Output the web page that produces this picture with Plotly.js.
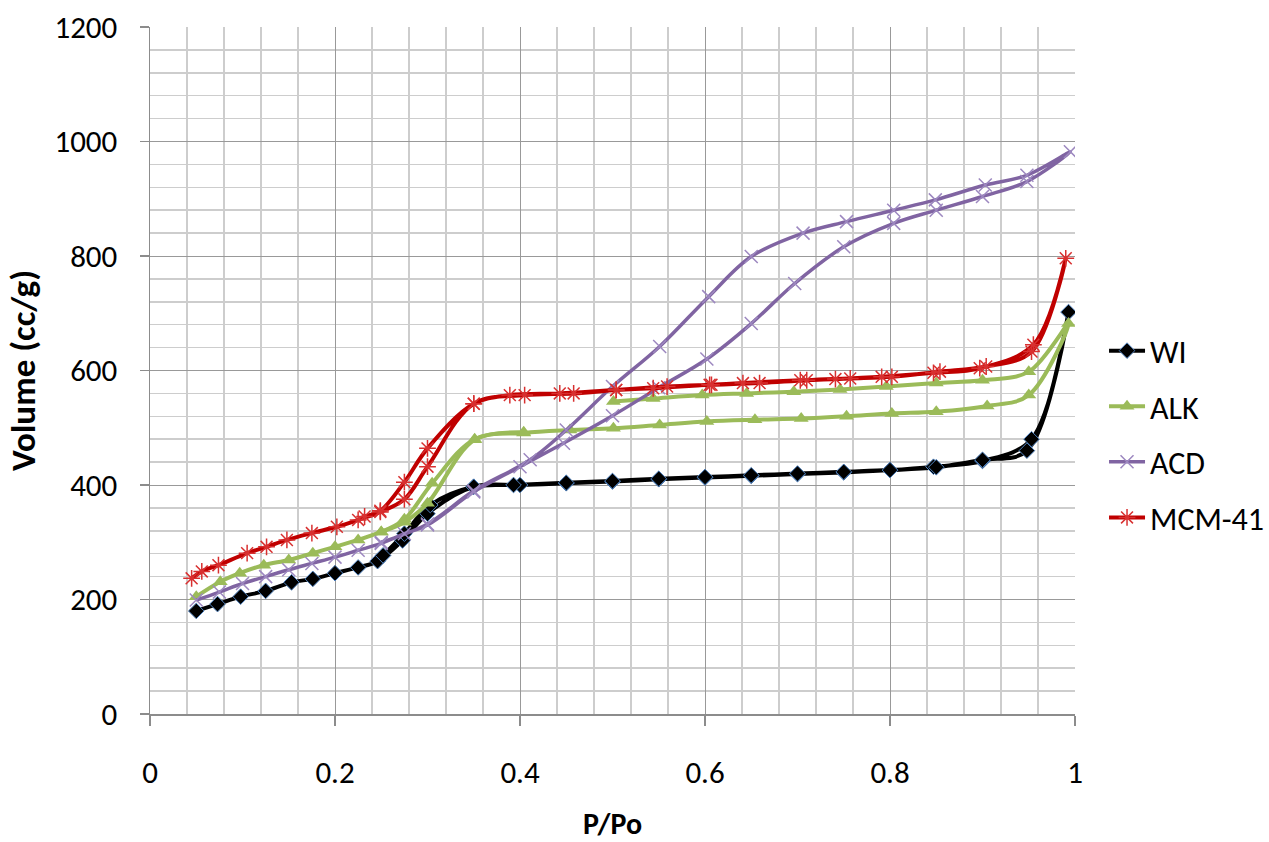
<!DOCTYPE html>
<html>
<head>
<meta charset="utf-8">
<script src="https://cdn.plot.ly/plotly-3.0.1.min.js"></script>
<style>html,body{margin:0;padding:0;background:#fff;}#chart{width:1269px;height:842px;}</style>
</head>
<body>
<div id="chart"></div>
<script>
// WI
const wiAdsP = [0.05,0.073,0.098,0.125,0.153,0.176,0.2,0.225,0.246,0.273,0.3,0.35,0.4,0.45,0.5,0.55,0.6,0.65,0.7,0.75,0.8,0.847,0.9,0.953,0.993];
const wiAdsV = [180,192,205,215,230,236,246,256,267,303,350,397,400,403,406,410,413,416,419,422,426,432,442,480,702];
const wiDesP = [0.948,0.9,0.85,0.8,0.75,0.7,0.65,0.6,0.55,0.5,0.45,0.393,0.35,0.303,0.275,0.252];
const wiDesV = [460,444,431,426,423,420,417,414,411,407,404,400,397,365,315,277];
// ALK
const alkAdsP = [0.05,0.076,0.097,0.123,0.15,0.176,0.2,0.225,0.25,0.275,0.3,0.351,0.404,0.454,0.501,0.551,0.602,0.654,0.704,0.753,0.802,0.85,0.905,0.95,0.993];
const alkAdsV = [205,231,246,260,269,281,292,304,318,335,368,479,491,496,499,505,511,514,516,520,525,528,538,557,682];
const alkDesP = [0.95,0.9,0.85,0.796,0.746,0.696,0.645,0.597,0.544,0.501];
const alkDesV = [598,583,578,572,567,563,560,557,551,546];
const alkDesLowP = [0.404,0.351,0.305,0.275,0.25];
const alkDesLowV = [492,480,403,340,318];
// ACD
const acdAdsP = [0.05,0.075,0.1,0.125,0.15,0.175,0.2,0.225,0.25,0.275,0.3,0.35,0.4,0.447,0.5,0.55,0.602,0.65,0.697,0.75,0.804,0.85,0.9,0.948,0.995];
const acdAdsV = [199,213,228,240,252,263,274,286,298,315,330,388,432,473,521,570,620,682,752,816,857,880,904,930,982];
const acdDesP = [0.948,0.903,0.849,0.804,0.753,0.706,0.65,0.604,0.551,0.5,0.45,0.411,0.35,0.3,0.25];
const acdDesV = [941,924,898,880,860,840,799,729,642,572,496,444,390,332,300];
// MCM-41
const mcmAdsP = [0.045,0.056,0.074,0.105,0.126,0.148,0.175,0.202,0.225,0.249,0.275,0.3,0.35,0.405,0.458,0.504,0.559,0.607,0.659,0.71,0.757,0.802,0.854,0.904,0.953,0.99];
const mcmAdsV = [237,249,260,281,292,304,316,327,339,353,375,432,542,557,560,566,572,575,578,583,586,589,598,607,633,796];
const mcmDesP = [0.955,0.897,0.847,0.791,0.741,0.703,0.641,0.605,0.544,0.504,0.443,0.389,0.35,0.3,0.275,0.249,0.232];
const mcmDesV = [645,604,596,589,585,583,578,575,569,566,560,557,542,464,405,355,345];

const seriesNames = ['WI','ALK','ACD','MCM-41'];
const xTitle = 'P/Po';
const yTitle = 'Volume (cc/g)';

const FONT = 'Calibri, Carlito, "Open Sans", sans-serif';

function tr(name, xs, ys, color, marker, group, lw) {
  return {
    type: 'scatter', mode: 'lines+markers', name: name, legendgroup: group,
    x: xs, y: ys, connectgaps: false,
    line: {color: color, width: lw, shape: 'spline', smoothing: 1},
    marker: marker
  };
}

const data = [
  tr(seriesNames[0], wiAdsP.concat(wiDesP), wiAdsV.concat(wiDesV), '#000000',
     {symbol: 'diamond', size: 12, color: '#000000', line: {color: '#4f81bd', width: 1}}, 'g1', 4),
  tr(seriesNames[1], alkAdsP.concat(alkDesP, [null], alkDesLowP), alkAdsV.concat(alkDesV, [null], alkDesLowV), '#9bbb59',
     {symbol: 'triangle-up', size: 13, color: '#9bbb59', line: {width: 0}}, 'g2', 4),
  tr(seriesNames[2], acdAdsP.concat(acdDesP), acdAdsV.concat(acdDesV), '#8064a2',
     {symbol: 'x-thin-open', size: 13, color: '#9d88c0', line: {color: '#9d88c0', width: 1.5}}, 'g3', 3.5),
  tr(seriesNames[3], mcmAdsP.concat(mcmDesP), mcmAdsV.concat(mcmDesV), '#c00000',
     {symbol: 'asterisk-open', size: 14, color: '#d83030', line: {color: '#d83030', width: 1.5}}, 'g4', 4)
];

const layout = {
  width: 1269, height: 842,
  margin: {l: 150, r: 194, t: 27, b: 128},
  paper_bgcolor: '#ffffff', plot_bgcolor: '#ffffff',
  font: {family: FONT, size: 31, color: '#000000'},
  showlegend: true,
  legend: {xref: 'container', yref: 'container', x: 0.870, xanchor: 'left', y: 0.616, yanchor: 'top',
           tracegroupgap: 11, itemwidth: 36,
           font: {family: FONT, size: 32, color: '#000000'}, bgcolor: 'rgba(0,0,0,0)'},
  xaxis: {
    range: [0, 1], dtick: 0.2, tick0: 0,
    showgrid: true, gridcolor: '#999999', gridwidth: 1,
    minor: {dtick: 0.04, showgrid: true, gridcolor: '#cdcdcd', gridwidth: 1.5},
    showline: true, linecolor: '#8c8c8c', linewidth: 1.5,
    ticks: 'outside', ticklen: 10, tickcolor: '#8c8c8c', tickwidth: 1.5,
    ticklabelstandoff: 20, zeroline: false,
    tickfont: {family: FONT, size: 31, color: '#000000'},
    title: {text: '<b>' + xTitle + '</b>', font: {family: FONT, size: 30, color: '#000'}, standoff: 29}
  },
  yaxis: {
    range: [0, 1200], dtick: 200, tick0: 0,
    showgrid: true, gridcolor: '#999999', gridwidth: 1,
    minor: {dtick: 40, showgrid: true, gridcolor: '#cdcdcd', gridwidth: 1.5},
    showline: true, linecolor: '#8c8c8c', linewidth: 1.5,
    ticks: 'outside', ticklen: 9, tickcolor: '#8c8c8c', tickwidth: 1.5,
    ticklabelstandoff: 16, zeroline: false,
    tickfont: {family: FONT, size: 31, color: '#000000'},
    title: {text: '<b>' + yTitle + '</b>', font: {family: FONT, size: 35, color: '#000'}, standoff: 8}
  }
};

Plotly.newPlot('chart', data, layout, {displayModeBar: false, staticPlot: true});
</script>
</body>
</html>
